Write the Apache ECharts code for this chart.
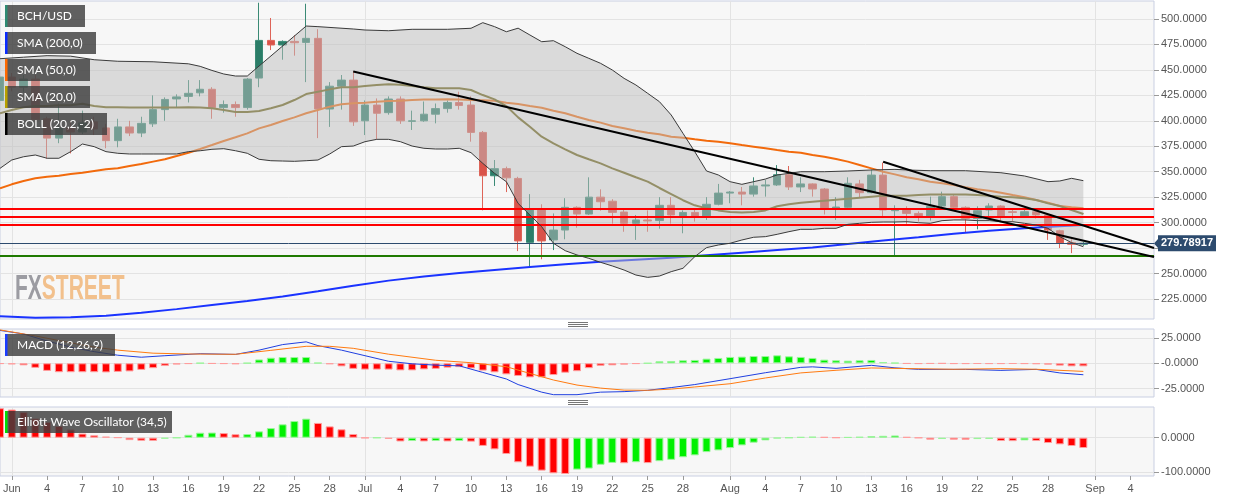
<!DOCTYPE html>
<html><head><meta charset="utf-8">
<script src="https://cdn.jsdelivr.net/npm/echarts@6/dist/echarts.min.js"></script>
<style>html,body{margin:0;padding:0;background:#fff}#c{width:1244px;height:501px}</style>
</head><body><div id="c"></div>
<script>
// ---------- categories (one per day, 31 May 2019 .. 6 Sep 2019) ----------
const monthNames = ['Jan','Feb','Mar','Apr','May','Jun','Jul','Aug','Sep','Oct','Nov','Dec'];
const categories = [];
for (let k = 0; k < 99; k++) categories.push(new Date(Date.UTC(2019, 4, 31) + k * 86400000).toISOString().slice(0, 10));

// ---------- candles (index 0 = 31 May) ----------
const candleOpen  = [420,443,433,441,402,383,393,389,399,393,380.5,394,388,397,411,421.5,424,427.5,431,413,416,413,442,479,474.5,478,477,481,411.6,434,440,400,415.5,408,421.4,399.5,400,406.5,412,418,415.5,388.6,346,353,343.4,280.6,313,283,292.7,315,308.4,325,321,310.4,299.3,302.6,302,317,306.5,310,306.5,318,329,330,328,336,337,347,335,338,333,314,315,338,329.4,346.7,311.7,313,309,306.5,316.3,325.5,315,304,312.4,316.3,310.7,306.5,310.7,307.5,292,280.3,278.7];
const candleHigh  = [446,447,445,445,404,417,400,410,404,397,402,400,404,425,423,426,440,440,433,420,419,442,516,501,479,484,515,490,438,445,449,420,422,424,424,410,419,417,420,428.6,424,390,361.5,355,345,328,318,309,324,316,344.5,332.7,323,312.4,307.5,312,325,325,312,314,325,338,331,335,344.5,342,356.5,355.6,344.5,338.6,334,325,344.5,342,352,359,317,316,311,325.5,330.4,327,316,316,319,317,313,312.4,313,309,293,283.6,281];
const candleLow   = [415,429,428,395,363,378,368,387,386,373,374,385,384,394,400,413,418,424,402,408,404,411,433,469.5,460,464,438,383,394,411,395,386,382,406,397,391,399,397.5,408,411,379.5,312,336,330,272,256.7,264,273,283.6,295,307.5,311.7,299,291,283,291,294,299,289.5,301,302.6,317,319,317,325.5,325.5,336,332,330,325.5,308,302.6,314,325,328.8,306.5,268,299,301,302,314,314,290,293.4,306.5,301,301,305,304,283,275,270,277];
const candleClose = [443,433,441,401,383,393,389,398,392,380.5,394,388,397.5,411,421,423.5,427,431,413,416,413,441,479,474.5,478,476.7,481,411.6,434,440,399,415.5,407.4,421.4,400,400,406.5,412,418,415,388.6,346,353,344,282,313,282,292.7,315,308.4,325,320.5,310,299.3,302.6,301.6,317,307.5,310,306,318,329,330,328,336,337,347,335,338,333,314,315.3,338.6,329.4,346.7,312.4,313,309,306,316,325.5,315,304,311.7,316.3,306.5,310,310.7,307.5,292.7,280,278.7,279.78917];
const lastPrice = 279.78917;

// ---------- overlays ----------
const sma20 = [407.4,410.6,413.3,414.5,414.5,415.2,415.2,416.8,414.5,413.3,413.3,413,413,413,413,413,413.3,413,412.3,410.6,408.6,408.6,409.6,412.3,415.5,420.4,426.3,428.6,430.9,432.9,432.9,434.2,435.2,435.9,435.5,434.2,432.9,431.9,431.9,431.9,430.3,425.3,421.1,414.5,403.4,394.2,384.4,377.9,372,366.4,362.2,358.2,353.3,349,344.5,340.2,334,328,322,317,314,312,310.5,310,310.5,312,316,318,319.5,320.5,321.5,322.5,323.5,324.5,325.5,326.5,326.5,326.5,327,327.5,327.5,327.5,327.5,327,326.5,325.5,325,323.9,322.2,318.9,316.3,312.4,308.4];
const sma50 = [333.7,337.6,340.9,343.5,345.1,346.1,347.7,349,350.7,352.4,353.3,355.6,357.6,359.9,362.2,365.4,368.7,372.3,376.2,380.2,383.8,387.7,392.6,395.9,399.8,403.4,407.4,410.6,413.9,416.2,417.2,417.8,418.8,419.5,419.8,420.4,421,421,421.2,421,420.4,420.2,419.8,417.8,416.5,414.5,412.9,409.9,407.4,404,400.8,398.2,394.9,392.6,390.3,388.3,386.7,384.4,383.4,381.8,380.5,379.5,377.9,376.2,374.6,373,371.3,369.7,368.7,366.4,364.7,362.5,359.9,356.6,353.3,350,347.4,344.5,342.5,340.2,338.6,336.9,334.7,332.7,331.3,329.4,327.1,324.9,322.2,319.6,316.3,315,314];
const sma200Days = [0,3,6,9,12,15,18,21,24,27,30,33,36,39,42,45,48,51,54,57,60,63,66,69,72,75,78,81,84,87,90,92];
const sma200 = [208,206.5,207,208.5,211.5,215,219,223,227.5,232.5,238,243,247,250.5,253.5,256.5,259,261.5,263.5,265.5,268,270.5,273,275.5,279,282.5,285.5,289,292,294.5,296.5,297.6];
const bbUpperDays = [0,2,4,6,8,10,13,16,17,18,19,20,21,26,27,30,31,33,35,38,40,41,42,43,44,45,46,47,48,49,50,51,52,53,54,55,56,57,58,59,60,61,62,63,64,65,66,67,68,70,72,74,76,77,79,82,85,87,89,90,91,92];
const bbUpper = [461,462.5,464,463.5,460,458.5,458,456,453.5,449.5,446,444,444,493.1,492.5,490.2,489.2,488.5,489.9,489.9,490.9,496.4,492.5,487.5,491,484.3,477.7,478.7,472.8,466.3,461.4,456.5,449.9,441.7,435.2,427,418.8,405.7,387.7,369.7,350.7,346.8,340.2,337.6,340.2,342.8,346.8,348.4,350,350,350.7,351.7,352.3,351.7,351,351,349,345.8,340.2,340.9,343.5,341.2];
const bbLower = [353.3,361.5,364.7,366.4,363.2,363.2,369.7,377.2,374.6,369.7,368.1,367.4,367.4,367.4,367.4,367.4,369.7,370.6,372,372.6,370.6,368.1,362.2,360.8,360.5,360.2,360.8,361.5,367.4,374.6,375.2,379.5,381.8,381.8,379.5,375.2,373,372.3,372.3,373,368.7,358.2,348.4,340.2,318.9,307.5,296,279.7,272.4,268.2,264.9,261,257.4,253.4,248.5,246.2,247.5,251.8,255.1,266.5,275.4,278,279.7,282.9,285.6,286.2,288.5,291.1,293.4,293.4,294.4,294.4,298.3,299.3,300.3,300.6,300.6,300.9,299.9,299.3,301.9,302.6,302.6,301.9,301.9,300.9,300.9,299.3,297.6,294.4,286.2,280.3,276.3];
const redLevels = [313.5, 305.5, 298];
const greenLevel = 267.5;
const trend1 = [['2019-06-30', 448.4], ['2019-09-06', 266.2]];
const trend2 = [['2019-08-14', 359.8], ['2019-09-06', 275.0]];

// ---------- MACD ----------
const macdHist = [-0.5,-1,-2,-4.5,-7.5,-8.8,-8.8,-8.8,-8.8,-9,-8.5,-8,-6.5,-4.8,-2.7,-1.2,-0.5,0.3,-0.3,-0.5,-0.8,0.3,3.8,5.5,6.2,6.2,6.2,0.5,-0.8,-3,-5.5,-6.2,-6.2,-6.2,-7,-7,-6,-5.5,-4.3,-3.8,-5,-7.2,-8.9,-10.9,-12.5,-13.9,-13.9,-11.6,-9.3,-7.8,-4.8,-2.5,-2,-1.3,-0.5,0.1,2,2.3,3,3.3,4.6,5.3,6.3,6.6,7.2,7.2,7.9,6.9,6.3,5.3,3.6,3,2.6,3,3.3,1.3,0.5,-0.3,-0.5,-0.3,-0.2,-0.5,-0.5,-0.4,-0.5,-0.5,-0.4,-0.5,-0.7,-1.3,-2.3,-3,-3];
const macdDays = [0,2,4,6,8,10,12,14,17,20,22,24,26,27,29,31,33,35,37,39,41,43,44,46,47,49,51,53,55,57,59,62,65,68,69,71,74,76,78,82,85,88,90,92];
const macdLine = [32.5,29,22,16,11.5,8,6,7.5,9.5,8.8,13,18.5,21.2,17.5,13,7.5,2,-0.5,-1.8,-2.5,-9,-15.5,-21,-28.5,-31,-31,-28.5,-28,-26.7,-24,-21,-15.2,-9.3,-4,-3.5,-5,-2,-4.5,-6,-6,-7,-6,-9.5,-11.3];
const signalDays = [0,3,5,8,10,13,16,20,23,26,28,30,33,37,40,43,45,47,49,51,53,55,57,59,62,65,68,71,74,77,81,85,88,92];
const signalLine = [33,27,22.5,16,13,10,9.2,8.9,12.8,16.8,16.8,14.8,9,3,0.6,-3.4,-10,-16.5,-21.5,-24.5,-26.5,-26.7,-25.5,-23.4,-20.2,-14.5,-9.5,-6.9,-4.6,-5.2,-5.9,-5.3,-5.9,-8];

// ---------- Elliott Wave Oscillator ----------
const ewo = [86,82,75,56,46,34,24,12,7,3,0.5,-7,-9,-9.2,-3,-0.5,8.5,14.5,15,13.5,10,10.5,18.5,28,39,48.5,55.5,43,33,24.5,10.7,-1,-0.5,-3.5,-11,-9.7,-11,-9.7,-11,-9.7,-11.5,-24,-34,-47.5,-71.7,-84.5,-96,-103.8,-105.8,-93,-90,-79,-73.5,-74.5,-71.5,-74,-68.5,-64.5,-57,-51.5,-42,-37,-30.3,-22.4,-14.6,-7.8,-2,-0.3,2,3,2,0.2,1.5,2.5,4.5,5.5,6.5,2,-0.5,-5.8,-3.9,-5.8,-6,-4,-3.5,-9.7,-10,-7.8,-9.7,-15.5,-19.4,-24.3,-30.1];

// ---------- tick labels ----------
const priceTicks = [225,250,275,300,325,350,375,400,425,450,475,500];
const macdTicks = [-25,0,25];
const ewoTicks = [-100,0];

// ---------- helpers ----------
const dayOf = s => +s.slice(8, 10);
const isMonthStart = (i, v) => dayOf(v) === 1;
const isLabelDay = (i, v) => { const d = dayOf(v); return d === 1 || ((d - 1) % 3 === 0 && d <= 28); };
const pairs = (days, vals) => days.map((d, k) => [d, vals[k]]);
const RED = '#ff0000', RED_B = '#ff9d9d', GREEN = '#00f000', GREEN_B = '#9af59a';
const FONT = 'Liberation Sans, Arial, sans-serif';

function xAx(gridIndex, withLabels) {
  return {
    type: 'category', gridIndex, data: categories, boundaryGap: false, position: 'bottom',
    axisLine: { show: false, onZero: false },
    axisTick: { show: withLabels, interval: isLabelDay, length: 4, lineStyle: { color: '#999' } },
    axisLabel: { show: withLabels, interval: isLabelDay, color: '#555', fontSize: 11, fontFamily: FONT, margin: 7,
      formatter: v => dayOf(v) === 1 ? monthNames[+v.slice(5, 7) - 1] : String(dayOf(v)) },
    splitLine: { show: true, interval: isMonthStart, lineStyle: { color: '#e3e3e3', width: 1 } }
  };
}
function yAx(gridIndex, min, max, step, ticks, fmt) {
  return {
    type: 'value', gridIndex, position: 'right', min, max, minInterval: step, maxInterval: step,
    axisLine: { show: false, onZero: false },
    axisTick: { show: true, length: 5, lineStyle: { color: '#999' }, customValues: ticks },
    axisLabel: { customValues: ticks, formatter: fmt, color: '#555', fontSize: 11, fontFamily: FONT, margin: 7 },
    splitLine: { show: true, lineStyle: { color: '#e3e3e3', width: 1 } }
  };
}
const gridStyle = { show: true, backgroundColor: '#f7f7f7', borderColor: '#c9cfe2', borderWidth: 1, outerBoundsMode: 'none', containLabel: false };

const candleData = candleOpen.map((o, k) => [o, candleClose[k], candleLow[k], candleHigh[k]]);
const macdBars = macdHist.map(v => ({ value: v, itemStyle: { color: v >= 0 ? GREEN : RED, borderColor: v >= 0 ? GREEN_B : RED_B } }));
const ewoBars = ewo.map((v, k) => { const up = k > 0 && v > ewo[k - 1]; return { value: v, itemStyle: { color: up ? GREEN : RED, borderColor: up ? GREEN_B : RED_B } }; });

function legendBox(y, w, label, color) {
  return [
    { type: 'rect', z: 100, shape: { x: 5, y, width: w, height: 22 }, style: { fill: 'rgba(62,62,62,0.82)' } },
    { type: 'rect', z: 101, shape: { x: 5, y, width: 2.5, height: 22 }, style: { fill: color } },
    { type: 'text', z: 101, style: { x: 17, y: y + 11, text: label, fill: '#fff', font: '12px Lato, sans-serif', verticalAlign: 'middle', textVerticalAlign: 'middle' } }
  ];
}
function handle(y0) {
  return [0, 2, 4].map(d => ({ type: 'line', z: 50, shape: { x1: 568, y1: y0 + d, x2: 588, y2: y0 + d }, style: { stroke: '#777', lineWidth: 1 } }));
}

const chart = echarts.init(document.getElementById('c'), null, { renderer: 'canvas' });
chart.setOption({
  animation: false,
  backgroundColor: '#ffffff',
  textStyle: { fontFamily: FONT },
  grid: [
    Object.assign({ left: 0, top: 1, width: 1154, height: 318 }, gridStyle),
    Object.assign({ left: 0, top: 329, width: 1154, height: 68 }, gridStyle),
    Object.assign({ left: 0, top: 407, width: 1154, height: 69 }, gridStyle)
  ],
  xAxis: [xAx(0, false), xAx(1, false), xAx(2, true)],
  yAxis: [
    yAx(0, 205.3, 517.7, 25, priceTicks, v => v.toFixed(4)),
    yAx(1, -33.3, 33.9, 25, macdTicks, v => v === 0 ? '-0.0000' : v.toFixed(4)),
    yAx(2, -111.7, 89.5, 100, ewoTicks, v => v.toFixed(4))
  ],
  series: [
    { type: 'candlestick', xAxisIndex: 0, yAxisIndex: 0, z: 2, barWidth: 8, data: candleData,
      itemStyle: { color: '#2b7d68', color0: '#d9534a', borderColor: '#3a8a75', borderColor0: '#de6458', borderWidth: 1 } },
    { type: 'line', xAxisIndex: 0, yAxisIndex: 0, z: 3, symbol: 'none', data: pairs(sma200Days, sma200), lineStyle: { color: '#1a33ff', width: 2 } },
    { type: 'line', xAxisIndex: 0, yAxisIndex: 0, z: 3, symbol: 'none', data: sma50, lineStyle: { color: '#f26a0c', width: 2 } },
    { type: 'line', xAxisIndex: 0, yAxisIndex: 0, z: 3, symbol: 'none', data: sma20, lineStyle: { color: '#6a6010', width: 2 } },
    { type: 'custom', xAxisIndex: 0, yAxisIndex: 0, z: 4, silent: true, data: [[0, bbLower[0]]],
      renderItem: (params, api) => {
        const pts = [];
        for (let k = 0; k < bbUpperDays.length; k++) pts.push(api.coord([bbUpperDays[k], bbUpper[k]]));
        for (let k = bbLower.length - 1; k >= 0; k--) pts.push(api.coord([k, bbLower[k]]));
        return { type: 'polygon', shape: { points: pts }, style: { fill: 'rgba(190,190,190,0.5)' } };
      } },
    { type: 'line', xAxisIndex: 0, yAxisIndex: 0, z: 5, symbol: 'none', data: pairs(bbUpperDays, bbUpper), lineStyle: { color: '#3a3a3a', width: 1 } },
    { type: 'line', xAxisIndex: 0, yAxisIndex: 0, z: 5, symbol: 'none', data: bbLower, lineStyle: { color: '#3a3a3a', width: 1 } },
    { type: 'line', xAxisIndex: 0, yAxisIndex: 0, z: 7, symbol: 'none', data: trend1, lineStyle: { color: '#000', width: 2 },
      markLine: { silent: true, symbol: ['none', 'none'], animation: false,
        data: redLevels.map(v => ({ yAxis: v, lineStyle: { color: RED, width: 2, type: 'solid' }, label: { show: false } }))
          .concat([{ yAxis: greenLevel, lineStyle: { color: '#1f7a00', width: 2, type: 'solid' }, label: { show: false } },
                   { yAxis: lastPrice, lineStyle: { color: '#2d4b6e', width: 1, type: 'solid' },
                     label: { show: true, position: 'end', distance: 4, formatter: lastPrice.toFixed(5), color: '#fff', fontWeight: 'bold', fontSize: 11, fontFamily: FONT,
                       backgroundColor: '#2d4b6e', padding: [3, 3, 2, 3] } }]) } },
    { type: 'line', xAxisIndex: 0, yAxisIndex: 0, z: 7, symbol: 'none', data: trend2, lineStyle: { color: '#000', width: 2 } },

    { type: 'bar', xAxisIndex: 1, yAxisIndex: 1, z: 2, barWidth: 8, data: macdBars, itemStyle: { borderWidth: 1 } },
    { type: 'line', xAxisIndex: 1, yAxisIndex: 1, z: 3, symbol: 'none', data: pairs(macdDays, macdLine), lineStyle: { color: '#1f3fe0', width: 1 } },
    { type: 'line', xAxisIndex: 1, yAxisIndex: 1, z: 3, symbol: 'none', data: pairs(signalDays, signalLine), lineStyle: { color: '#ff7a10', width: 1 } },

    { type: 'bar', xAxisIndex: 2, yAxisIndex: 2, z: 2, barWidth: 8, data: ewoBars, itemStyle: { borderWidth: 1 } }
  ],
  graphic: { elements: [].concat(
    legendBox(5, 80, 'BCH/USD', '#2e8b73'),
    legendBox(32, 91, 'SMA (200,0)', '#0a2bff'),
    legendBox(59, 85, 'SMA (50,0)', '#ff6a00'),
    legendBox(86, 85, 'SMA (20,0)', '#b8a000'),
    legendBox(113, 102, 'BOLL (20,2,-2)', '#000000'),
    legendBox(334, 110, 'MACD (12,26,9)', '#1a3cff'),
    legendBox(411, 167, 'Elliott Wave Oscillator (34,5)', '#00dd00'),
    handle(322.5), handle(400.5),
    [{ type: 'polygon', z: 60, shape: { points: [[1154, 243.5], [1158, 239], [1158, 248]] }, style: { fill: '#2d4b6e' } },
     { type: 'text', z: 1, x: 15, y: 272, scaleX: 0.6, style: { text: '{a|FX}{b|STREET}', x: 0, y: 0,
        rich: { a: { fill: '#9c9ca2', font: 'bold 35px Liberation Sans, sans-serif' }, b: { fill: '#f2c08c', font: 'bold 35px Liberation Sans, sans-serif' } } } }]
  ) }
});
</script></body></html>
